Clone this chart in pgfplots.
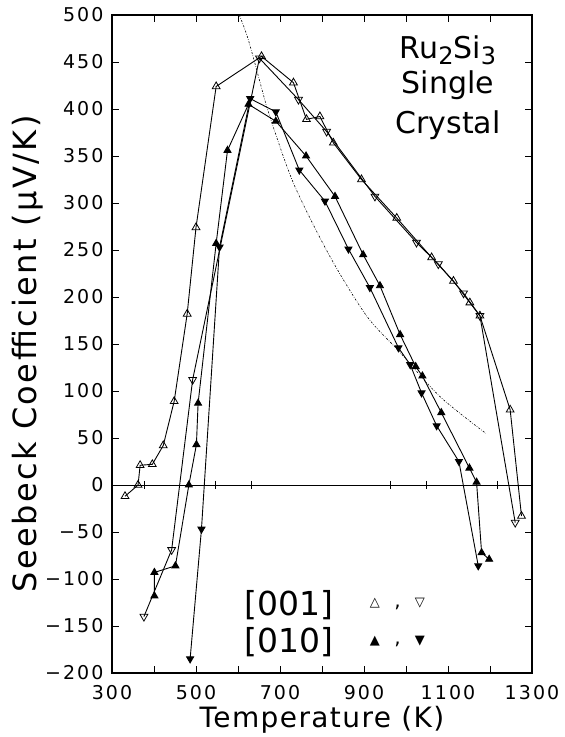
\documentclass[border=0pt]{standalone}
\usepackage{pgfplots}
\pgfplotsset{compat=1.18}
\usetikzlibrary{calc}
\usepackage{fontspec}
\setmainfont{DejaVu Sans}

% measured data, [001] and [010] directions
\pgfplotstableread{
T S
331 -12
362 0
367 21
396 22
422 42
448 89
479 182
500 274
548 424
656 456
732 428
763 389
795 392
827 364
894 325
978 284
1061 242
1113 217
1152 194
1176 180
1248 80
1275 -33
}\aUp
\pgfplotstableread{
T S
376 -140
442 -69
492 112
651 454
744 410
811 376
926 307
1025 258
1077 235
1137 204
1176 180
1260 -40
}\aDown
\pgfplotstableread{
T S
401 -118
401 -93
451 -86
483 0
501 43
505 87
548 257
575 356
625 405
690 387
762 350
831 307
898 245
938 212
986 160
1023 126
1039 116
1084 77
1151 18
1168 3
1180 -72
1198 -79
}\bUp
\pgfplotstableread{
T S
486 -185
513 -47
556 253
629 411
690 397
746 335
807 302
863 251
914 210
982 146
1010 128
1037 98
1073 63
1126 25
1172 -86
}\bDown

\begin{document}
\begin{tikzpicture}
\begin{axis}[name=ax, scale only axis, width=420pt, height=658pt,
  xmin=300, xmax=1300, ymin=-200, ymax=500,
  xtick={300,500,...,1300}, minor xtick={400,600,...,1200},
  xticklabels={300,500,700,900,1100,1300},
  ytick={-200,-150,...,500},
  yticklabels={−200,−150,−100,−50,0,50,100,150,200,250,300,350,400,450,500},
  tick align=inside, major tick length=7pt, minor tick length=7pt,
  axis line style={line width=1.2pt}, every tick/.style={black, line width=0.8pt},
  tick label style={font=\fontsize{19}{19}\selectfont\addfontfeature{LetterSpace=11}},
  xticklabel style={yshift=-9pt},
  yticklabel style={xshift=-5pt},
  xlabel={Temperature (K)}, ylabel={Seebeck Coefficient (μV/K)},
  x label style={at={(axis description cs:0.5,0)}, anchor=center, yshift=-47pt,
    font=\fontsize{28}{28}\selectfont\addfontfeature{LetterSpace=5}},
  y label style={at={(axis description cs:0,0.5)}, anchor=center, xshift=-10pt, yshift=84pt,
    font=\fontsize{32}{32}\selectfont\addfontfeature{LetterSpace=7.5}},
  clip=false]
\addplot[black, line width=0.8pt] coordinates {(300,0) (1300,0)};
\addplot[black, only marks, mark=|, mark size=4pt, mark options={line width=0.8pt}] coordinates {(376,0) (545,0) (631,0) (964,0) (1048,0) (1217,0)};
\addplot[black, line width=0.6pt, dash pattern=on 2pt off 1.5pt on 0.6pt off 1.5pt, smooth] coordinates {(603,500) (625,473) (668,403) (686,378) (735,318) (819,243) (906,180) (986,141) (1081,94) (1190,55)};
\addplot[black, line width=0.9pt, mark=triangle, mark size=4.5pt, mark options={solid, line width=0.8pt}] table {\aUp};
\addplot[black, line width=0.9pt, mark=triangle, mark size=4.5pt, mark options={solid, line width=0.8pt, rotate=180}] table {\aDown};
\addplot[black, line width=0.9pt, mark=triangle*, mark size=4pt, mark options={solid}] table {\bUp};
\addplot[black, line width=0.9pt, mark=triangle*, mark size=4pt, mark options={solid, rotate=180}] table {\bDown};
\node[font=\fontsize{30}{30}\selectfont] at (axis cs:1100,462) {Ru\raisebox{-6pt}{\fontsize{24}{24}\selectfont 2}Si\raisebox{-6pt}{\fontsize{24}{24}\selectfont 3}};
\node[font=\fontsize{30}{30}\selectfont] at (axis cs:1100,425) {Single};
\node[font=\fontsize{30}{30}\selectfont] at (axis cs:1100,383) {Crystal};
\node[font=\fontsize{33}{33}\selectfont] at (axis cs:721,-128) {[001]};
\node[font=\fontsize{33}{33}\selectfont] at (axis cs:721,-167) {[010]};
\node[font=\fontsize{13}{13}\selectfont] at (axis cs:926,-126) {△};
\node[font=\fontsize{20}{20}\selectfont] at (axis cs:980,-130) {,};
\node[font=\fontsize{13}{13}\selectfont] at (axis cs:1033,-126) {▽};
\node[font=\fontsize{13}{13}\selectfont] at (axis cs:926,-166) {▲};
\node[font=\fontsize{20}{20}\selectfont] at (axis cs:980,-170) {,};
\node[font=\fontsize{13}{13}\selectfont] at (axis cs:1033,-166) {▼};
\end{axis}
\pgfresetboundingbox
\path ($(ax.south west)+(-112pt,-64pt)$) rectangle ($(ax.north east)+(32pt,15pt)$);
\end{tikzpicture}
\end{document}
